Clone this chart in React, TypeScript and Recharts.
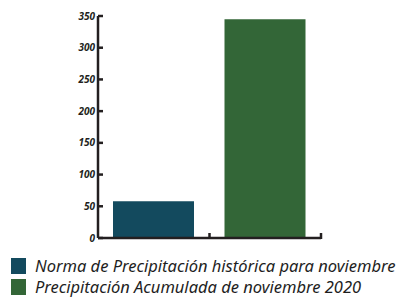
import React from 'react'
import { BarChart, Bar, XAxis, YAxis, Legend } from 'recharts'

const categories = ['Norma', 'Acumulada']
const normaValues = [58, null]
const acumuladaValues = [null, 345]
const seriesNames = [
  'Norma de Precipitación histórica para noviembre',
  'Precipitación Acumulada de noviembre 2020',
]
const yTicks = [0, 50, 100, 150, 200, 250, 300, 350]

const COLORS = ['#134a5e', '#336637']
const INK = '#231f20'

const data = categories.map((c, i) => ({
  name: c,
  norma: normaValues[i],
  acumulada: acumuladaValues[i],
}))

// eslint-disable-next-line @typescript-eslint/no-explicit-any
const YTick = (props: any) => {
  const { x, y, payload } = props
  return (
    <g>
      <line x1={x} x2={x + 5} y1={y} y2={y} stroke={INK} strokeWidth={2.5} />
      <text
        x={x - 3}
        y={y}
        dy={3.5}
        textAnchor="end"
        fontSize={10}
        fontWeight="bold"
        fontStyle="italic"
        fontFamily="'Open Sans', sans-serif"
        fill={INK}
      >
        {payload.value}
      </text>
    </g>
  )
}

// eslint-disable-next-line @typescript-eslint/no-explicit-any
const XTick = (props: any) => {
  const { x, y, payload } = props
  const bx = x + (payload.offset || 0)
  return <line x1={bx} x2={bx} y1={y + 1} y2={y - 5} stroke={INK} strokeWidth={2.5} />
}

// eslint-disable-next-line @typescript-eslint/no-explicit-any
const LegendContent = (props: any) => {
  const { payload } = props
  return (
    <div style={{ height: 42, width: 401, paddingLeft: 11, boxSizing: 'border-box' }}>
      {(payload || []).map((p: any, i: number) => (
        <div key={i} style={{ display: 'flex', alignItems: 'center', height: 21 }}>
          <span
            style={{ width: 15, height: 16, background: p.color, display: 'inline-block', marginRight: 9 }}
          />
          <span
            style={{
              fontFamily: "'Noto Sans', sans-serif",
              fontStyle: 'italic',
              fontSize: 16.5,
              color: '#1e1e1e',
              whiteSpace: 'nowrap',
              lineHeight: '19px',
            }}
          >
            {p.value}
          </span>
        </div>
      ))}
    </div>
  )
}

export default function App() {
  return (
    <div style={{ position: 'absolute', left: 0, top: 0, width: 401, height: 297, background: '#fff' }}>
      <BarChart
        width={401}
        height={297}
        data={data}
        margin={{ top: 16, right: 80, left: 58, bottom: 0 }}
        barSize={81}
      >
        <XAxis
          dataKey="name"
          height={17}
          tickSize={0}
          tickMargin={0}
          tick={<XTick />}
          axisLine={{ stroke: INK, strokeWidth: 2.5 }}
          tickLine={false}
        />
        <YAxis
          width={40}
          domain={[0, 350]}
          ticks={yTicks}
          tickSize={0}
          tickMargin={0}
          tick={<YTick />}
          axisLine={{ stroke: INK, strokeWidth: 2.5 }}
          tickLine={false}
        />
        <Legend
          verticalAlign="bottom"
          align="left"
          layout="horizontal"
          content={<LegendContent />}
          wrapperStyle={{ left: 0, bottom: 0, width: 401 }}
        />
        <Bar dataKey="norma" name={seriesNames[0]} stackId="s" fill={COLORS[0]} isAnimationActive={false} />
        <Bar dataKey="acumulada" name={seriesNames[1]} stackId="s" fill={COLORS[1]} isAnimationActive={false} />
      </BarChart>
    </div>
  )
}
